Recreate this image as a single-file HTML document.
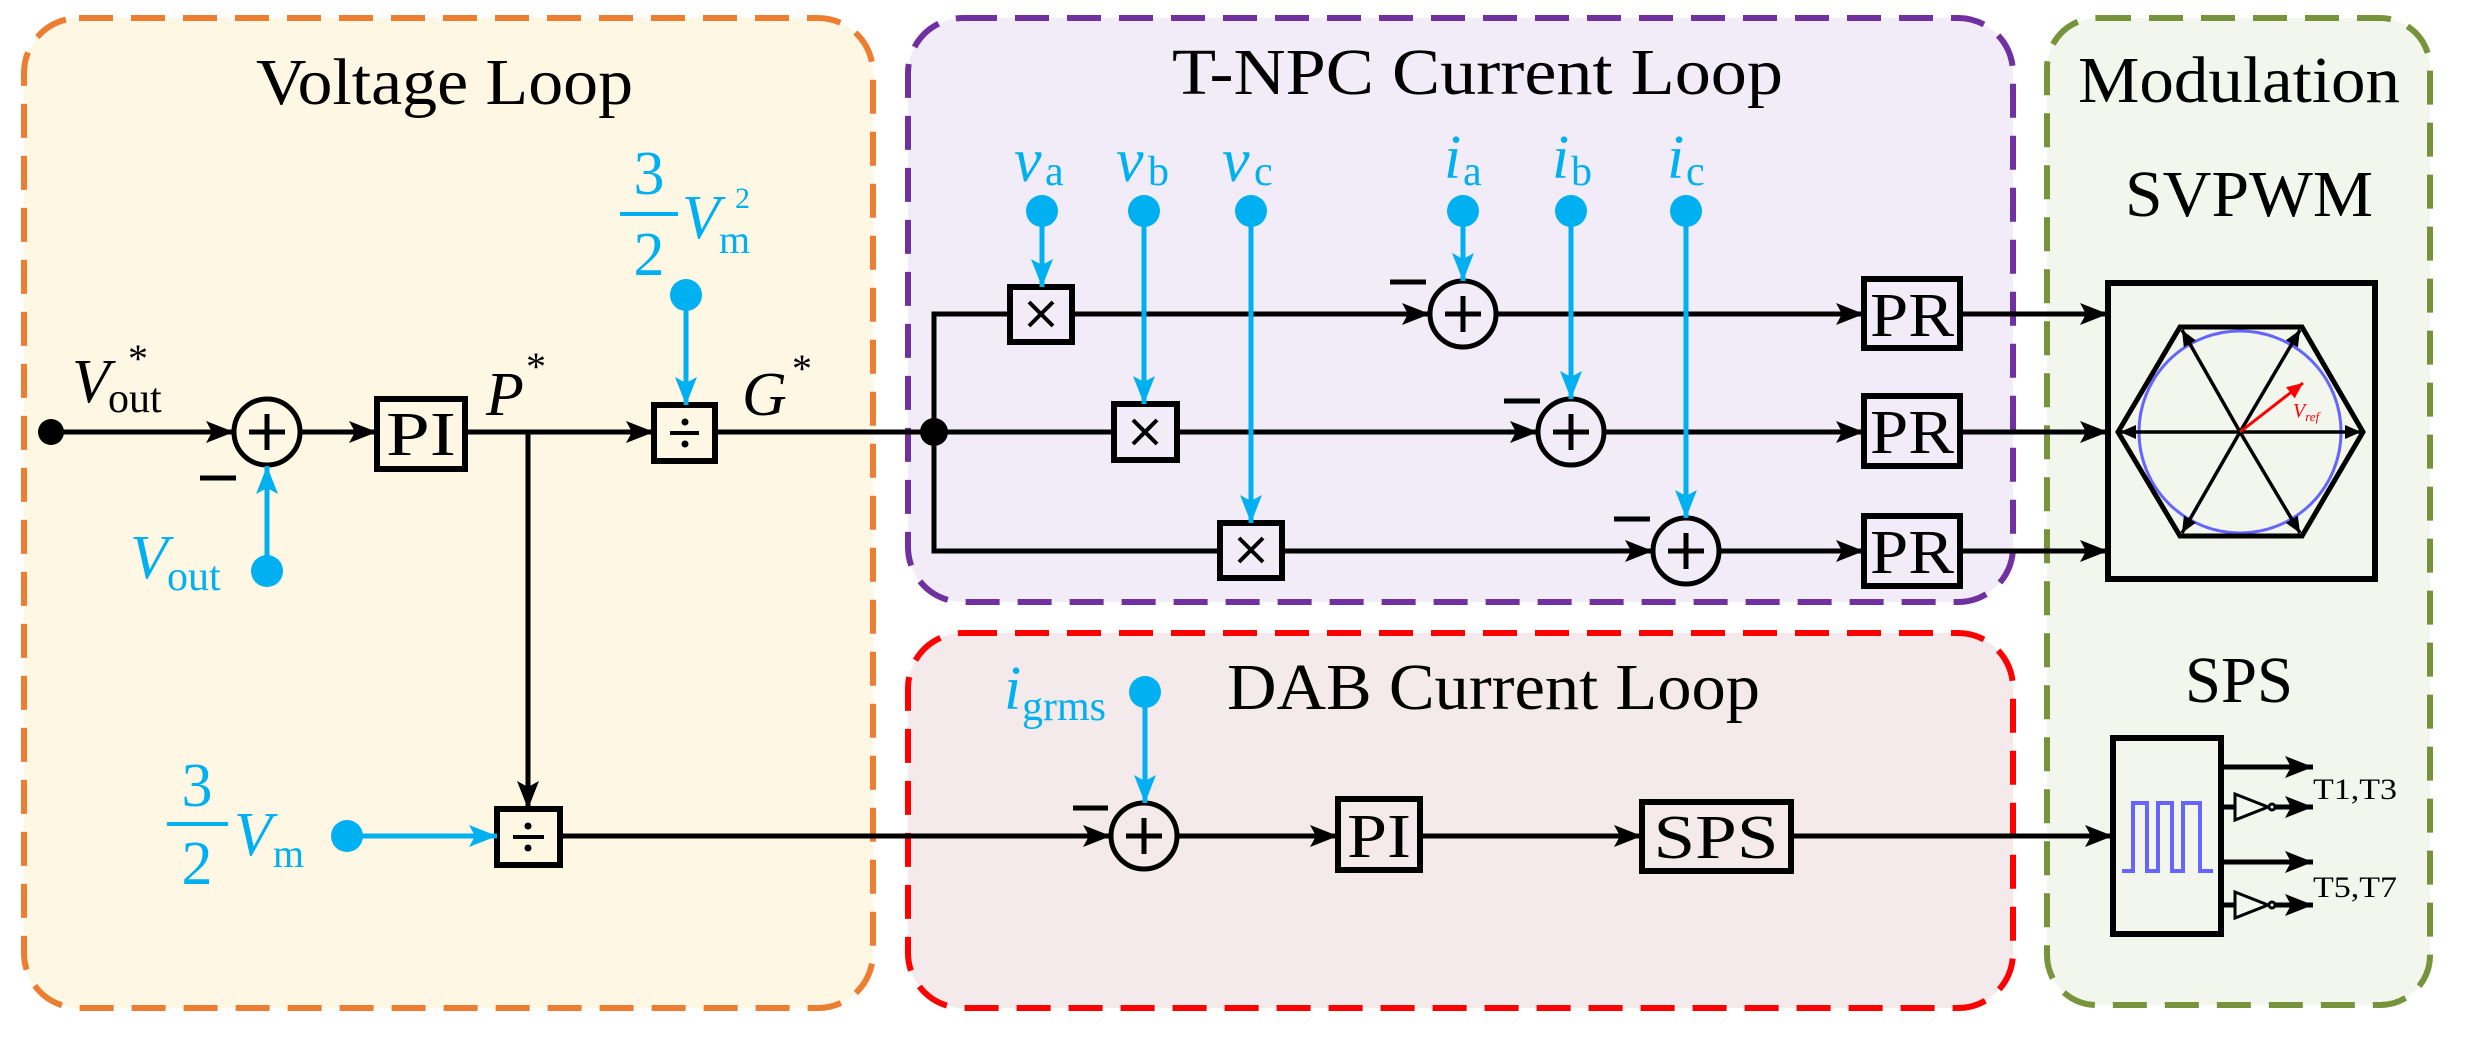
<!DOCTYPE html>
<html><head><meta charset="utf-8"><style>
html,body{margin:0;padding:0;background:#fff;}
svg{display:block;}
text{font-family:"Liberation Serif",serif;}
</style></head><body>
<svg width="2466" height="1051" viewBox="0 0 2466 1051" xmlns="http://www.w3.org/2000/svg">
<defs>
<marker id="ab" markerUnits="userSpaceOnUse" markerWidth="30" markerHeight="22" refX="28" refY="11" orient="auto"><path d="M0,0 L28,11 L0,22 L6,11 z" fill="#000"/></marker>
<marker id="ac" markerUnits="userSpaceOnUse" markerWidth="30" markerHeight="22" refX="28" refY="11" orient="auto"><path d="M0,0 L28,11 L0,22 L6,11 z" fill="#00B0F0"/></marker>
<marker id="as" markerUnits="userSpaceOnUse" markerWidth="18" markerHeight="14" refX="16" refY="7" orient="auto"><path d="M0,0 L16,7 L0,14 z" fill="#000"/></marker>
<marker id="ar" markerUnits="userSpaceOnUse" markerWidth="18" markerHeight="14" refX="16" refY="7" orient="auto"><path d="M0,0 L16,7 L0,14 z" fill="#f00"/></marker>
</defs>

<rect x="24" y="18" width="849" height="990" rx="55" fill="#FEF7E4" stroke="#ED7D31" stroke-width="6" stroke-dasharray="34 18"/>
<rect x="908" y="18" width="1105" height="584" rx="55" fill="#F1ECF7" stroke="#7030A0" stroke-width="6" stroke-dasharray="34 18"/>
<rect x="908" y="633" width="1105" height="375" rx="55" fill="#F4EAEC" stroke="#FF0000" stroke-width="6" stroke-dasharray="34 18"/>
<rect x="2047" y="18" width="383" height="987" rx="50" fill="#F3F6EC" stroke="#77933C" stroke-width="6" stroke-dasharray="34 18"/>

<text x="256" y="104" font-size="66" textLength="377" lengthAdjust="spacingAndGlyphs">Voltage Loop</text>
<text x="1172" y="94" font-size="66" textLength="611" lengthAdjust="spacingAndGlyphs">T-NPC Current Loop</text>
<text x="1227" y="709" font-size="66" textLength="533" lengthAdjust="spacingAndGlyphs">DAB Current Loop</text>
<text x="2078" y="102" font-size="66" textLength="322" lengthAdjust="spacingAndGlyphs">Modulation</text>
<text x="2125" y="216" font-size="66" textLength="248" lengthAdjust="spacingAndGlyphs">SVPWM</text>
<text x="2185" y="702" font-size="66" textLength="108" lengthAdjust="spacingAndGlyphs">SPS</text>

<g stroke="#000" stroke-width="5" fill="none">
<line x1="51" y1="432" x2="234" y2="432" marker-end="url(#ab)"/>
<line x1="300" y1="432" x2="377" y2="432" marker-end="url(#ab)"/>
<line x1="465" y1="432" x2="654" y2="432" marker-end="url(#ab)"/>
<line x1="715" y1="432" x2="934" y2="432"/>
<line x1="528" y1="432" x2="528" y2="809" marker-end="url(#ab)"/>
<line x1="560" y1="836" x2="1111" y2="836" marker-end="url(#ab)"/>
<line x1="1177" y1="836" x2="1338" y2="836" marker-end="url(#ab)"/>
<line x1="1420" y1="836" x2="1642" y2="836" marker-end="url(#ab)"/>
<line x1="1791" y1="836" x2="2113" y2="836" marker-end="url(#ab)"/>
<polyline points="1010,314 934,314 934,551 1220,551"/>
<line x1="934" y1="432" x2="1114" y2="432"/>
<line x1="1072" y1="314" x2="1430" y2="314" marker-end="url(#ab)"/>
<line x1="1496" y1="314" x2="1864" y2="314" marker-end="url(#ab)"/>
<line x1="1960" y1="314" x2="2108" y2="314" marker-end="url(#ab)"/>
<line x1="1177" y1="432" x2="1538" y2="432" marker-end="url(#ab)"/>
<line x1="1604" y1="432" x2="1864" y2="432" marker-end="url(#ab)"/>
<line x1="1960" y1="432" x2="2108" y2="432" marker-end="url(#ab)"/>
<line x1="1282" y1="551" x2="1653" y2="551" marker-end="url(#ab)"/>
<line x1="1719" y1="551" x2="1864" y2="551" marker-end="url(#ab)"/>
<line x1="1960" y1="551" x2="2108" y2="551" marker-end="url(#ab)"/>
</g>
<circle cx="51" cy="432" r="13" fill="#000"/>
<circle cx="934" cy="432" r="14" fill="#000"/>

<g stroke="#000" stroke-width="5" fill="none">
<circle cx="267" cy="432" r="33"/><path d="M249,432h36M267,414v36"/>
<circle cx="1144" cy="836" r="33"/><path d="M1126,836h36M1144,818v36"/>
<circle cx="1463" cy="314" r="33"/><path d="M1445,314h36M1463,296v36"/>
<circle cx="1571" cy="432" r="33"/><path d="M1553,432h36M1571,414v36"/>
<circle cx="1686" cy="551" r="33"/><path d="M1668,551h36M1686,533v36"/>
</g>
<g stroke="#000" stroke-width="5">
<line x1="200" y1="478" x2="236" y2="478"/>
<line x1="1073" y1="808" x2="1108" y2="808"/>
<line x1="1390" y1="282" x2="1426" y2="282"/>
<line x1="1504" y1="401" x2="1540" y2="401"/>
<line x1="1614" y1="519" x2="1650" y2="519"/>
</g>

<g stroke="#000" stroke-width="6" fill="none">
<rect x="377" y="399" width="88" height="70"/>
<rect x="654" y="405" width="61" height="56"/>
<rect x="497" y="809" width="63" height="56"/>
<rect x="1010" y="287" width="62" height="55"/>
<rect x="1114" y="404" width="63" height="56"/>
<rect x="1220" y="523" width="62" height="55"/>
<rect x="1338" y="799" width="82" height="71"/>
<rect x="1642" y="802" width="149" height="69"/>
<rect x="1864" y="279" width="96" height="69"/>
<rect x="1864" y="396" width="96" height="70"/>
<rect x="1864" y="516" width="96" height="70"/>
<rect x="2108" y="283" width="267" height="296"/>
<rect x="2113" y="738" width="108" height="196"/>
</g>
<g stroke="#000" stroke-width="4">
<path d="M1029,302l24,24M1053,302l-24,24"/>
<path d="M1133,420l24,24M1157,420l-24,24"/>
<path d="M1239,538l24,24M1263,538l-24,24"/>
<path d="M670,433h29M513,837h31"/>
</g>
<g fill="#000">
<circle cx="685" cy="422" r="3.5"/><circle cx="685" cy="444" r="3.5"/>
<circle cx="528" cy="826" r="3.5"/><circle cx="528" cy="848" r="3.5"/>
</g>
<g font-size="62">
<text x="421" y="455" text-anchor="middle" textLength="70" lengthAdjust="spacingAndGlyphs">PI</text>
<text x="1379" y="857" text-anchor="middle" textLength="64" lengthAdjust="spacingAndGlyphs">PI</text>
<text x="1716" y="858" text-anchor="middle" textLength="125" lengthAdjust="spacingAndGlyphs">SPS</text>
<text x="1912" y="336" text-anchor="middle" textLength="84" lengthAdjust="spacingAndGlyphs">PR</text>
<text x="1912" y="453" text-anchor="middle" textLength="84" lengthAdjust="spacingAndGlyphs">PR</text>
<text x="1912" y="573" text-anchor="middle" textLength="84" lengthAdjust="spacingAndGlyphs">PR</text>
</g>

<g stroke="#00B0F0" stroke-width="5">
<line x1="267" y1="571" x2="267" y2="466" marker-end="url(#ac)"/>
<line x1="686" y1="295" x2="686" y2="405" marker-end="url(#ac)"/>
<line x1="347" y1="836" x2="497" y2="836" marker-end="url(#ac)"/>
<line x1="1145" y1="692" x2="1145" y2="803" marker-end="url(#ac)"/>
<line x1="1042" y1="211" x2="1042" y2="287" marker-end="url(#ac)"/>
<line x1="1144" y1="211" x2="1144" y2="404" marker-end="url(#ac)"/>
<line x1="1251" y1="211" x2="1251" y2="523" marker-end="url(#ac)"/>
<line x1="1463" y1="211" x2="1463" y2="281" marker-end="url(#ac)"/>
<line x1="1571" y1="211" x2="1571" y2="399" marker-end="url(#ac)"/>
<line x1="1686" y1="211" x2="1686" y2="518" marker-end="url(#ac)"/>
</g>
<g fill="#00B0F0">
<circle cx="267" cy="571" r="16"/><circle cx="686" cy="295" r="16"/><circle cx="347" cy="836" r="16"/>
<circle cx="1145" cy="692" r="16"/><circle cx="1042" cy="211" r="16"/><circle cx="1144" cy="211" r="16"/>
<circle cx="1251" cy="211" r="16"/><circle cx="1463" cy="211" r="16"/><circle cx="1571" cy="211" r="16"/><circle cx="1686" cy="211" r="16"/>
</g>

<text x="72" y="402" font-size="62" font-style="italic">V</text>
<text x="108" y="412" font-size="42">out</text>
<text x="128" y="372" font-size="40">*</text>
<text x="486" y="415" font-size="62" font-style="italic">P</text>
<text x="526" y="380" font-size="40">*</text>
<text x="742" y="415" font-size="62" font-style="italic">G</text>
<text x="792" y="382" font-size="40">*</text>

<g fill="#00B0F0">
<text x="130" y="578" font-size="62" font-style="italic">V</text>
<text x="167" y="590" font-size="42">out</text>
<text x="649" y="194" font-size="62" text-anchor="middle">3</text>
<line x1="620" y1="214" x2="678" y2="214" stroke="#00B0F0" stroke-width="4"/>
<text x="649" y="275" font-size="62" text-anchor="middle">2</text>
<text x="682" y="238" font-size="62" font-style="italic">V</text>
<text x="719" y="253" font-size="40">m</text>
<text x="735" y="208" font-size="30">2</text>
<text x="197" y="806" font-size="62" text-anchor="middle">3</text>
<line x1="167" y1="824" x2="228" y2="824" stroke="#00B0F0" stroke-width="4"/>
<text x="197" y="884" font-size="62" text-anchor="middle">2</text>
<text x="234" y="855" font-size="62" font-style="italic">V</text>
<text x="273" y="867" font-size="40">m</text>
<text x="1004" y="709" font-size="62" font-style="italic">i</text>
<text x="1022" y="720" font-size="42">grms</text>
<text x="1014" y="181" font-size="62" font-style="italic">v</text>
<text x="1045" y="185" font-size="42">a</text>
<text x="1116" y="181" font-size="62" font-style="italic">v</text>
<text x="1148" y="185" font-size="42">b</text>
<text x="1222" y="181" font-size="62" font-style="italic">v</text>
<text x="1254" y="185" font-size="42">c</text>
<text x="1444" y="178" font-size="62" font-style="italic">i</text>
<text x="1463" y="185" font-size="42">a</text>
<text x="1552" y="178" font-size="62" font-style="italic">i</text>
<text x="1571" y="185" font-size="42">b</text>
<text x="1667" y="178" font-size="62" font-style="italic">i</text>
<text x="1686" y="185" font-size="42">c</text>
</g>

<circle cx="2240" cy="432" r="101" fill="none" stroke="#6666FF" stroke-width="3"/>
<polygon points="2118,432 2180,327 2302,327 2363,432 2302,536 2180,536" fill="none" stroke="#000" stroke-width="5"/>
<g stroke="#000" stroke-width="3.5">
<line x1="2240" y1="432" x2="2120" y2="432" marker-end="url(#as)"/>
<line x1="2240" y1="432" x2="2361" y2="432" marker-end="url(#as)"/>
<line x1="2240" y1="432" x2="2182" y2="330" marker-end="url(#as)"/>
<line x1="2240" y1="432" x2="2300" y2="330" marker-end="url(#as)"/>
<line x1="2240" y1="432" x2="2182" y2="533" marker-end="url(#as)"/>
<line x1="2240" y1="432" x2="2300" y2="533" marker-end="url(#as)"/>
</g>
<line x1="2240" y1="432" x2="2303" y2="383" stroke="#f00" stroke-width="3" marker-end="url(#ar)"/>
<text x="2293" y="417" font-size="20" font-style="italic" fill="#f00">V<tspan font-size="13" dy="4">ref</tspan></text>

<polyline points="2122,871 2133,871 2133,803 2147,803 2147,871 2158,871 2158,803 2172,803 2172,871 2183,871 2183,803 2200,803 2200,871 2213,871" fill="none" stroke="#6666FF" stroke-width="4"/>
<g stroke="#000" stroke-width="5" fill="none">
<line x1="2221" y1="767" x2="2313" y2="767" marker-end="url(#ab)"/>
<line x1="2221" y1="807" x2="2235" y2="807"/>
<line x1="2275" y1="807" x2="2313" y2="807" marker-end="url(#ab)"/>
<line x1="2221" y1="862" x2="2313" y2="862" marker-end="url(#ab)"/>
<line x1="2221" y1="905" x2="2235" y2="905"/>
<line x1="2275" y1="905" x2="2313" y2="905" marker-end="url(#ab)"/>
</g>
<g stroke="#000" stroke-width="3" fill="#F3F6EC">
<polygon points="2235,794 2268,807 2235,820"/><circle cx="2272" cy="807" r="3"/>
<polygon points="2235,892 2268,905 2235,918"/><circle cx="2272" cy="905" r="3"/>
</g>
<text x="2313" y="799" font-size="30" textLength="84" lengthAdjust="spacingAndGlyphs">T1,T3</text>
<text x="2313" y="897" font-size="30" textLength="84" lengthAdjust="spacingAndGlyphs">T5,T7</text>
</svg>
</body></html>
